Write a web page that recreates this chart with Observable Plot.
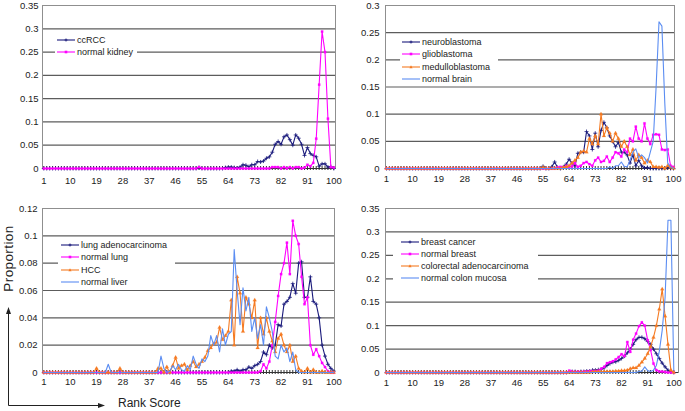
<!DOCTYPE html>
<html>
<head>
<meta charset="utf-8">
<script src="https://cdn.jsdelivr.net/npm/d3@7"></script>
<script src="https://cdn.jsdelivr.net/npm/@observablehq/plot@0.6"></script>
<style>
  html, body { margin: 0; padding: 0; background: #fff; }
  #root { position: relative; width: 685px; height: 411px; overflow: hidden;
          font-family: "Liberation Sans", Arial, sans-serif; color: #222; }
  .panel { position: absolute; }
  .legend { position: absolute; background: #fff; font-size: 9px; color: #222; }
  .legend .row { position: absolute; left: 0; height: 12px; white-space: nowrap; }
  .legend svg { position: absolute; left: 0; top: 0; }
  .legend span { position: absolute; top: 0; line-height: 12px; }
  .axlabel { position: absolute; white-space: nowrap; color: #222; }
</style>
</head>
<body>
<div id="root">
  <div class="panel" id="pA" style="left:0;top:0"></div>
  <div class="panel" id="pB" style="left:340px;top:0"></div>
  <div class="panel" id="pC" style="left:0;top:200px"></div>
  <div class="panel" id="pD" style="left:340px;top:200px"></div>
  <svg id="arrows" width="685" height="411" style="position:absolute;left:0;top:0;pointer-events:none">
    <line x1="8.5" y1="405.5" x2="8.5" y2="313" stroke="#222" stroke-width="1"/>
    <polygon points="8.5,307 6,314 11,314" fill="#222"/>
    <line x1="8.5" y1="405.5" x2="99" y2="405.5" stroke="#222" stroke-width="1"/>
    <polygon points="105,405.5 98,403 98,408" fill="#222"/>
  </svg>
  <div class="axlabel" style="left:118px;top:396px;font-size:12px;">Rank Score</div>
  <div class="axlabel" style="left:-30px;top:251px;font-size:13.5px;transform:rotate(-90deg);transform-origin:center;width:76px;text-align:center;letter-spacing:0.4px;">Proportion</div>
</div>
<script>
// ---------- categories ----------
const ranks = d3.range(1, 101);
const xTickLabels = [1, 10, 19, 28, 37, 46, 55, 64, 73, 82, 91, 100];

// ---------- panel A: kidney ----------
const yTicksA = [0, 0.05, 0.1, 0.15, 0.2, 0.25, 0.3, 0.35];
const ccRCC = [
  0,0,0,0,0,0,0,0,0,0,
  0,0,0,0,0,0,0,0,0,0,
  0,0,0,0,0,0,0,0,0,0,
  0,0,0,0,0,0,0,0,0,0,
  0,0,0,0,0,0,0,0,0,0,
  0,0,0,0.002,0,0,0,0,0,0,
  0,0,0.002,0.003,0.003,0.002,0.001,0.003,0.008,0.007,
  0.004,0.008,0.008,0.015,0.014,0.016,0.022,0.025,0.035,0.052,
  0.058,0.052,0.068,0.072,0.062,0.05,0.072,0.065,0.052,0.028,
  0.045,0.032,0.028,0.025,0.005,0.01,0.01,0.003,0.004,0
];
const normalKidney = [
  0,0,0,0,0,0,0,0,0,0,
  0,0,0,0,0,0,0,0,0,0,
  0,0,0,0,0,0,0,0,0,0,
  0,0,0,0,0,0,0,0,0,0,
  0,0,0,0,0,0,0,0,0,0,
  0,0,0,0.003,0,0,0,0,0,0,
  0,0,0,0,0,0,0,0,0,0,
  0,0,0,0,0,0,0,0,0.003,0.003,
  0.003,0,0.003,0,0.003,0,0.003,0.003,0,0.002,
  0.008,0.005,0.012,0.064,0.18,0.294,0.25,0.107,0.003,0.002
];

// ---------- panel B: brain ----------
const yTicksB = [0, 0.05, 0.1, 0.15, 0.2, 0.25, 0.3];
const neuroblastoma = [
  0,0,0,0,0,0,0,0,0,0,
  0,0,0,0,0,0,0,0,0,0,
  0,0,0,0,0,0,0,0,0,0,
  0,0,0,0,0,0,0,0,0,0,
  0,0,0,0,0,0,0,0,0,0,
  0,0,0,0,0.004,0,0,0.003,0.012,0.002,
  0,0.003,0.008,0.017,0.01,0.005,0.028,0.03,0.03,0.068,
  0.06,0.035,0.065,0.04,0.07,0.085,0.075,0.06,0.05,0.04,
  0.048,0.03,0.03,0.025,0.01,0.025,0.005,0.015,0.005,0.001,
  0.002,0,0,0,0,0,0,0.002,0,0
];
const glioblastoma = [
  0,0,0,0,0,0,0,0,0,0,
  0,0,0,0,0,0,0,0,0,0,
  0,0,0,0,0,0,0,0,0,0,
  0,0,0,0,0,0,0,0,0,0,
  0,0,0,0,0,0,0,0,0,0,
  0,0,0,0,0,0,0,0,0,0.002,
  0.003,0.002,0.005,0.003,0.004,0.01,0.003,0.005,0.01,0.012,
  0.008,0.005,0.015,0.02,0.012,0.014,0.022,0.012,0.02,0.03,
  0.028,0.022,0.035,0.03,0.055,0.05,0.077,0.055,0.05,0.083,
  0.055,0.045,0.062,0.063,0.062,0.035,0.034,0.035,0.005,0.003
];
const medulloblastoma = [
  0,0,0,0,0,0,0,0,0,0,
  0,0,0,0,0,0,0,0,0,0,
  0,0,0,0,0,0,0,0,0,0,
  0,0,0,0,0,0,0,0,0,0,
  0,0,0,0,0,0,0,0,0,0,
  0,0,0,0,0.002,0,0,0,0,0,
  0,0.002,0.003,0.005,0.01,0.015,0.02,0.03,0.032,0.03,
  0.055,0.045,0.06,0.045,0.1,0.06,0.075,0.065,0.05,0.065,
  0.055,0.04,0.05,0.04,0.025,0.035,0.015,0.025,0.02,0.01,
  0.015,0.012,0.003,0.003,0.002,0.003,0,0.005,0.002,0
];
const normalBrain = [
  0,0,0,0,0,0,0,0,0,0,
  0,0,0,0,0,0,0,0,0,0,
  0,0,0,0,0,0,0,0,0,0,
  0,0,0,0,0,0,0,0,0,0,
  0,0,0,0,0,0,0,0,0,0,
  0,0,0,0,0,0,0,0,0,0,
  0,0,0,0,0,0,0,0,0,0,
  0,0,0,0,0,0,0,0.003,0,0.005,
  0.005,0.012,0.004,0.003,0.015,0.03,0.036,0.02,0.025,0.02,
  0.01,0.03,0.05,0.15,0.27,0.262,0.12,0.01,0.003,0
];

// ---------- panel C: lung / liver ----------
const yTicksC = [0, 0.02, 0.04, 0.06, 0.08, 0.1, 0.12];
const lungAdeno = [
  0,0,0,0,0,0,0,0,0,0,
  0,0,0,0,0,0,0,0,0,0,
  0,0,0,0,0,0,0,0,0,0,
  0,0,0,0,0,0,0,0,0,0,
  0,0,0,0,0,0,0,0,0,0,
  0,0,0,0,0,0,0,0,0,0,
  0,0,0,0,0.001,0.001,0.002,0.001,0.002,0.002,
  0.004,0.003,0.005,0.006,0.008,0.015,0.013,0.02,0.018,0.02,
  0.035,0.034,0.05,0.052,0.055,0.065,0.058,0.08,0.081,0.055,
  0.055,0.07,0.052,0.05,0.04,0.02,0.012,0.006,0.003,0.001
];
const normalLung = [
  0,0,0,0,0,0,0,0,0,0,
  0,0,0,0,0,0,0,0,0,0,
  0,0,0,0,0,0,0,0,0,0,
  0,0,0,0,0,0,0,0,0,0,
  0,0,0,0,0,0,0,0,0,0,
  0,0,0,0,0,0,0,0,0,0,
  0,0,0,0,0,0,0,0,0,0,
  0,0,0,0,0.001,0.006,0.003,0.008,0.02,0.037,
  0.056,0.072,0.08,0.095,0.072,0.111,0.1,0.094,0.07,0.05,
  0.055,0.02,0.013,0.017,0.012,0.007,0.004,0.001,0,0
];
const HCC = [
  0,0,0,0,0,0,0,0,0,0,
  0,0,0,0,0,0,0,0,0.003,0,
  0,0,0,0,0,0,0.003,0,0,0,
  0,0,0,0,0,0,0,0,0,0.003,
  0.003,0,0.004,0,0.005,0.011,0.003,0.005,0.006,0.002,
  0.005,0.008,0.004,0.006,0.008,0.011,0.016,0.018,0.021,0.022,
  0.033,0.024,0.027,0.03,0.053,0.02,0.07,0.058,0.03,0.055,
  0.05,0.04,0.053,0.018,0.04,0.028,0.04,0.03,0.023,0.015,
  0.025,0.028,0.02,0.015,0.02,0.008,0.012,0.003,0.001,0,
  0.003,0,0.002,0,0,0.001,0,0,0,0
];
const normalLiver = [
  0,0,0,0,0,0,0,0,0,0,
  0,0,0,0,0,0,0,0,0,0,
  0,0,0.006,0,0,0,0,0,0,0,
  0,0,0,0,0,0,0,0,0,0,
  0.012,0.003,0,0.001,0.005,0.002,0.006,0.002,0.001,0.005,
  0.002,0.012,0.006,0.003,0.01,0.008,0.012,0.027,0.02,0.027,
  0.015,0.032,0.02,0.028,0.03,0.09,0.06,0.035,0.062,0.045,
  0.055,0.03,0.04,0.025,0.035,0.02,0.048,0.04,0.03,0.012,
  0.01,0.02,0.015,0.018,0.008,0.015,0.002,0,0,0,
  0,0,0,0,0,0,0,0,0,0
];

// ---------- panel D: breast / colon ----------
const yTicksD = [0, 0.05, 0.1, 0.15, 0.2, 0.25, 0.3, 0.35];
const breastCancer = [
  0,0,0,0,0,0,0,0,0,0,
  0,0,0,0,0,0,0,0,0,0,
  0,0,0,0,0,0,0,0,0,0,
  0,0,0,0,0,0,0,0,0,0,
  0,0,0,0,0,0,0,0,0,0,
  0,0,0,0,0,0,0,0,0,0,
  0,0,0,0.001,0.002,0.002,0.001,0.002,0.002,0.003,
  0.003,0.005,0.005,0.006,0.007,0.01,0.015,0.019,0.022,0.023,
  0.026,0.03,0.035,0.042,0.05,0.06,0.07,0.075,0.075,0.072,
  0.066,0.06,0.05,0.04,0.03,0.02,0.012,0.005,0.002,0
];
const normalBreast = [
  0,0,0,0,0,0,0,0,0,0,
  0,0,0,0,0,0,0,0,0,0,
  0,0,0,0,0,0,0,0,0,0,
  0,0,0,0,0,0,0,0,0,0,
  0,0,0,0,0,0,0,0,0,0,
  0,0,0,0,0,0,0,0,0,0,
  0,0,0,0.004,0.002,0.001,0.002,0.001,0.002,0.002,
  0.003,0.003,0.003,0.004,0.008,0.012,0.02,0.022,0.024,0.028,
  0.033,0.039,0.035,0.065,0.044,0.07,0.083,0.099,0.107,0.1,
  0.069,0.048,0.019,0.005,0.002,0.002,0.001,0,0,0
];
const colorectal = [
  0,0,0,0,0,0,0,0,0,0,
  0,0,0,0,0,0,0,0,0,0,
  0,0,0,0,0,0,0,0,0,0,
  0,0,0,0,0,0,0,0,0,0,
  0,0,0,0,0,0,0,0,0,0,
  0,0,0,0,0,0,0,0,0,0,
  0,0,0,0,0,0,0,0,0,0,
  0,0.001,0.002,0.002,0.001,0.002,0.002,0.002,0.002,0.003,
  0.003,0.004,0.004,0.005,0.008,0.01,0.01,0.015,0.022,0.03,
  0.04,0.055,0.075,0.1,0.135,0.178,0.12,0.06,0.005,0
];
const normalColon = [
  0,0,0,0,0,0,0,0,0,0,
  0,0,0,0,0,0,0,0,0,0,
  0,0,0,0,0,0,0,0,0,0,
  0,0,0,0,0,0,0,0,0,0,
  0,0,0,0,0,0,0,0,0,0,
  0,0,0,0,0,0,0,0,0,0,
  0,0,0,0,0,0,0,0,0,0,
  0,0,0,0,0,0,0,0,0,0,
  0,0,0,0,0,0,0,0.002,0.003,0.012,
  0.004,0.002,0.005,0.015,0.045,0.09,0.16,0.325,0.325,0.005
];

// ---------- styles ----------
const NAVY = "#1b1b7c", MAGENTA = "#ff00ff", ORANGE = "#f57a22", BLUE = "#5b8df2";
const styleNavy = {color: NAVY, symbol: "plus", r: 1.4, filled: false};
const styleMag = {color: MAGENTA, symbol: "square", r: 1.3, filled: true};
const styleOra = {color: ORANGE, symbol: "triangle", r: 1.4, filled: true};
const styleBlue = {color: BLUE, symbol: null};

const panels = [
  {id: "pA", left: 0, top: 0, width: 340, height: 200, mt: 5, mb: 32, ml: 42, mr: 5,
   insetL: 1.3, insetR: 1.7, yMax: 0.35, yTicks: yTicksA, xPad: 9, yPad: 4,
   legend: {left: 55, top: 33, width: 82, height: 24, rowTop: 1, sampleL: 2},
   series: [
     {name: "ccRCC", values: ccRCC, ...styleNavy},
     {name: "normal kidney", values: normalKidney, ...styleMag}
   ]},
  {id: "pB", left: 340, top: 0, width: 345, height: 200, mt: 5, mb: 32, ml: 45, mr: 11,
   insetL: 1, insetR: 1, yMax: 0.3, yTicks: yTicksB, xPad: 7, yPad: 6,
   legend: {left: 400, top: 36, width: 98, height: 48, rowTop: 0, sampleL: 2},
   series: [
     {name: "neuroblastoma", values: neuroblastoma, ...styleNavy},
     {name: "glioblastoma", values: glioblastoma, ...styleMag},
     {name: "medulloblastoma", values: medulloblastoma, ...styleOra},
     {name: "normal brain", values: normalBrain, ...styleBlue}
   ]},
  {id: "pC", left: 0, top: 200, width: 340, height: 200, mt: 8, mb: 28, ml: 42, mr: 6,
   insetL: 1.3, insetR: 0.7, yMax: 0.12, yTicks: yTicksC, xPad: 6, yPad: 5,
   legend: {left: 58, top: 239, width: 117, height: 50, rowTop: 0, sampleL: 3},
   series: [
     {name: "lung adenocarcinoma", values: lungAdeno, ...styleNavy},
     {name: "normal lung", values: normalLung, ...styleMag},
     {name: "HCC", values: HCC, ...styleOra},
     {name: "normal liver", values: normalLiver, ...styleBlue}
   ]},
  {id: "pD", left: 340, top: 200, width: 345, height: 200, mt: 8, mb: 28, ml: 45, mr: 7,
   insetL: 1, insetR: 4.7, yMax: 0.35, yTicks: yTicksD, xPad: 6.5, yPad: 6,
   legend: {left: 393, top: 235, width: 145, height: 51, rowTop: 0.5, sampleL: 8},
   series: [
     {name: "breast cancer", values: breastCancer, ...styleNavy},
     {name: "normal breast", values: normalBreast, ...styleMag},
     {name: "colorectal adenocarcinoma", values: colorectal, ...styleOra},
     {name: "normal colon mucosa", values: normalColon, ...styleBlue}
   ]}
];

const fmt = d => String(+d.toFixed(3));

function drawPanel(cfg) {
  const marks = [
    Plot.ruleY(cfg.yTicks.filter(t => t > 0), {y: d => d, stroke: "#5c5c5c", strokeWidth: 1.2}),
    Plot.frame({stroke: "#8f8f8f", strokeWidth: 1}),
    Plot.axisY({ticks: cfg.yTicks, tickSize: 0, tickPadding: cfg.yPad, tickFormat: fmt, label: null}),
    Plot.axisX({ticks: xTickLabels, tickSize: 0, tickPadding: cfg.xPad, tickFormat: d => String(d), label: null}),
    Plot.axisX({ticks: ranks, tickSize: 4, tickFormat: () => "", label: null, stroke: "#333", dy: -2}),
    Plot.ruleY([0], {y: d => d, stroke: "#333", strokeWidth: 1})
  ];
  cfg.series.forEach(s => {
    const rows = s.values.map((v, i) => ({rank: ranks[i], value: v}));
    marks.push(Plot.line(rows, {x: "rank", y: "value", stroke: s.color, strokeWidth: 1.1}));
    if (s.symbol) {
      marks.push(Plot.dot(rows, {x: "rank", y: "value", symbol: s.symbol, r: s.r,
        fill: s.filled ? s.color : "none", stroke: s.color, strokeWidth: s.filled ? 0.2 : 0.8}));
    }
  });
  const chart = Plot.plot({
    width: cfg.width, height: cfg.height,
    marginTop: cfg.mt, marginBottom: cfg.mb, marginLeft: cfg.ml, marginRight: cfg.mr,
    x: {type: "linear", domain: [1, 100], insetLeft: cfg.insetL, insetRight: cfg.insetR},
    y: {type: "linear", domain: [0, cfg.yMax]},
    style: {fontFamily: "'Liberation Sans', Arial, sans-serif", fontSize: "9.5px", color: "#222", background: "transparent", overflow: "visible"},
    marks
  });
  document.getElementById(cfg.id).appendChild(chart);

  // legend
  const L = cfg.legend;
  const box = document.createElement("div");
  box.className = "legend";
  box.style.left = L.left + "px"; box.style.top = L.top + "px";
  box.style.width = L.width + "px"; box.style.height = L.height + "px";
  cfg.series.forEach((s, i) => {
    const row = document.createElement("div");
    row.className = "row";
    row.style.top = (L.rowTop + i * 12.3) + "px";
    row.style.width = L.width + "px";
    const sx = L.sampleL, ex = L.sampleL + 18, mx = (sx + ex) / 2;
    let marker = "";
    if (s.symbol === "plus") marker = `<path d="M${mx-1.5},6H${mx+1.5}M${mx},4.5V7.5" stroke="${s.color}" stroke-width="0.9"/>`;
    if (s.symbol === "square") marker = `<rect x="${mx-1.3}" y="4.7" width="2.6" height="2.6" fill="${s.color}"/>`;
    if (s.symbol === "triangle") marker = `<polygon points="${mx},4.2 ${mx-1.6},7.3 ${mx+1.6},7.3" fill="${s.color}"/>`;
    row.innerHTML = `<svg width="${ex + 2}" height="12"><line x1="${sx}" y1="6" x2="${ex}" y2="6" stroke="${s.color}" stroke-width="1.1"/>${marker}</svg><span style="left:${ex + 2}px">${s.name}</span>`;
    box.appendChild(row);
  });
  document.getElementById("root").appendChild(box);
}

panels.forEach(drawPanel);
</script>
</body>
</html>
